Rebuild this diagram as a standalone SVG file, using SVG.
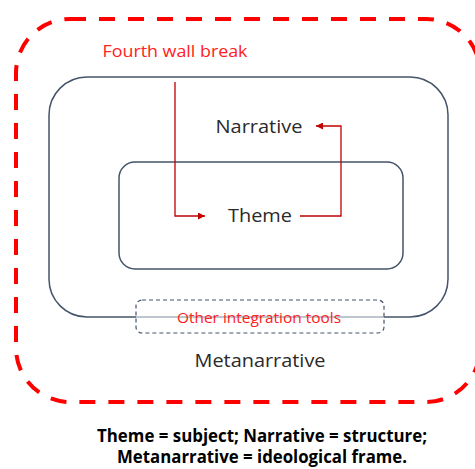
<svg xmlns="http://www.w3.org/2000/svg" width="475" height="469" viewBox="0 0 475 469">
<style>
.box{fill:none;stroke:#44546A;stroke-width:1.5}
.lbl{font-family:"Open Sans","Noto Sans",sans-serif;font-size:19px;fill:#2a2a2a;text-anchor:middle}
.red{fill:#FF2020}
.conn{fill:none;stroke:#C00000;stroke-width:1.3}
.note{font-family:"Open Sans","Noto Sans",sans-serif;font-size:17px;font-weight:bold;fill:#000;text-anchor:middle}
</style>
<defs>
<marker id="ah" viewBox="0 0 10 10" refX="10" refY="5" markerWidth="8" markerHeight="7" markerUnits="userSpaceOnUse" orient="auto">
<path d="M0,0 L10,5 L0,10 z" fill="#C00000"/>
</marker>
</defs>
<g id="metanarrative">
<rect x="16" y="19" width="464" height="383" rx="54" ry="54" fill="none" stroke="#FF0000" stroke-width="4" stroke-dasharray="16 13"/>
<text class="lbl" x="260" y="367" textLength="131" lengthAdjust="spacingAndGlyphs">Metanarrative</text>
</g>
<g id="narrative">
<rect class="box" x="49" y="77" width="399" height="240" rx="38" ry="38"/>
<text class="lbl" x="259" y="133" textLength="87" lengthAdjust="spacingAndGlyphs">Narrative</text>
</g>
<g id="theme">
<rect class="box" x="119" y="162" width="284" height="107" rx="16" ry="16"/>
<text class="lbl" x="260" y="222" textLength="64" lengthAdjust="spacingAndGlyphs">Theme</text>
</g>
<g id="other-tools">
<rect x="136" y="300" width="248" height="33" rx="6" ry="6" fill="#fff" fill-opacity="0.55" stroke="#44546A" stroke-width="1.2" stroke-dasharray="4 3"/>
<text class="lbl red" x="259" y="323" style="font-size:15px" textLength="164" lengthAdjust="spacingAndGlyphs">Other integration tools</text>
</g>
<g id="fourth-wall">
<text class="lbl red" x="175" y="57" style="font-size:17px" textLength="145" lengthAdjust="spacingAndGlyphs">Fourth wall break</text>
</g>
<g id="connectors">
<path class="conn" d="M175,82 V216 H205" marker-end="url(#ah)"/>
<path class="conn" d="M300,216 H341 V126 H316" marker-end="url(#ah)"/>
</g>
<g id="caption">
<text class="note" x="262" y="442" textLength="330" lengthAdjust="spacingAndGlyphs">Theme = subject; Narrative = structure;</text>
<text class="note" x="262" y="463" textLength="290" lengthAdjust="spacingAndGlyphs">Metanarrative = ideological frame.</text>
</g>
</svg>
